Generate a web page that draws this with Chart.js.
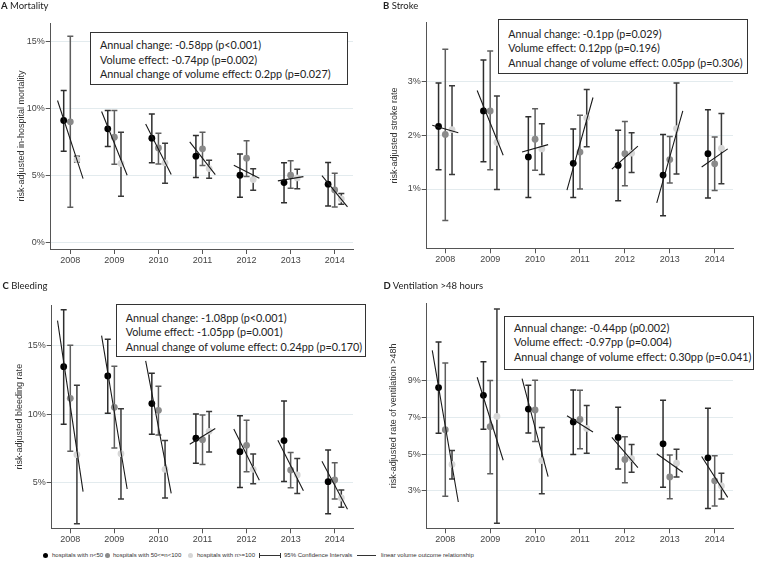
<!DOCTYPE html>
<html><head><meta charset="utf-8">
<script src="https://cdn.jsdelivr.net/npm/chart.js@4"></script>
<style>
html,body{margin:0;padding:0;background:#fff;}
#wrap{position:relative;width:767px;height:573px;overflow:hidden;}
canvas{position:absolute;}
.ptitle{position:absolute;font-family:Lato,sans-serif;font-size:9.5px;color:#222;line-height:1;white-space:nowrap;}
.box{position:absolute;border:1.3px solid #333;box-sizing:border-box;font-family:Lato,sans-serif;color:#222;background:#fff;}
.box div{position:absolute;white-space:nowrap;line-height:1;}
.leg{position:absolute;font-family:"Liberation Sans",Arial,sans-serif;font-size:6px;color:#333;white-space:nowrap;line-height:1;}
.dot{position:absolute;width:5px;height:5px;border-radius:50%;}
</style></head>
<body><div id="wrap">
<canvas id="cA" width="383" height="270" style="left:0;top:0"></canvas>
<canvas id="cB" width="384" height="270" style="left:383px;top:0"></canvas>
<canvas id="cC" width="383" height="280" style="left:0;top:270px"></canvas>
<canvas id="cD" width="384" height="280" style="left:383px;top:270px"></canvas>
</div>
<script>
// ---- data ----
const years = [2008, 2009, 2010, 2011, 2012, 2013, 2014];
const seriesLabels = ['hospitals with n<50', 'hospitals with 50<=n<100', 'hospitals with n>=100'];

// A Mortality
const mortN50    = [9.1, 8.48, 7.78, 6.43, 5.0, 4.45, 4.33];
const mortN50Lo  = [6.8, 7.15, 5.93, 4.83, 3.35, 2.95, 2.7];
const mortN50Hi  = [11.35, 9.85, 9.58, 7.98, 6.6, 5.93, 5.95];
const mortN100   = [9.0, 7.85, 7.05, 6.98, 6.28, 5.0, 3.9];
const mortN100Lo = [2.6, 5.83, 5.85, 5.73, 4.9, 4.03, 2.63];
const mortN100Hi = [15.4, 9.85, 8.15, 8.23, 7.58, 6.08, 5.15];
const mortNBig   = [6.18, 5.88, 5.93, 5.5, 4.68, 4.8, 3.23];
const mortNBigLo = [6.0, 3.43, 4.4, 4.78, 3.88, 4.0, 2.83];
const mortNBigHi = [6.43, 8.23, 7.4, 6.13, 5.48, 5.45, 3.63];
const mortFitStart = [10.6, 9.78, 8.83, 7.5, 5.75, 4.58, 4.98];
const mortFitEnd   = [4.75, 5.0, 5.05, 5.05, 4.78, 4.9, 2.63];
const mortTicks = [0, 5, 10, 15];
const mortText = ['Annual change: -0.58pp (p<0.001)', 'Volume effect: -0.74pp (p=0.002)', 'Annual change of volume effect: 0.2pp (p=0.027)'];

// B Stroke
const strokeN50    = [2.17, 2.46, 1.6, 1.48, 1.44, 1.26, 1.66];
const strokeN50Lo  = [1.36, 1.51, 0.84, 0.84, 0.78, 0.5, 0.83];
const strokeN50Hi  = [2.98, 3.41, 2.35, 2.12, 2.1, 2.02, 2.48];
const strokeN100   = [2.02, 2.46, 1.93, 1.69, 1.66, 1.55, 1.47];
const strokeN100Lo = [0.41, 1.36, 1.35, 1.0, 1.06, 1.11, 0.97];
const strokeN100Hi = [3.61, 3.58, 2.5, 2.38, 2.26, 1.98, 1.97];
const strokeNBig   = [2.11, 1.87, 1.75, 2.33, 1.67, 2.13, 1.76];
const strokeNBigLo = [1.27, 0.99, 1.27, 1.79, 1.31, 1.28, 1.1];
const strokeNBigHi = [2.93, 2.74, 2.22, 2.86, 2.05, 2.98, 2.41];
const strokeFitStart = [2.19, 2.84, 1.69, 0.98, 1.37, 0.74, 1.41];
const strokeFitEnd   = [2.05, 1.63, 1.83, 2.71, 1.8, 2.46, 1.75];
const strokeTicks = [1, 2, 3];
const strokeText = ['Annual change: -0.1pp (p=0.029)', 'Volume effect: 0.12pp (p=0.196)', 'Annual change of volume effect: 0.05pp (p=0.306)'];

// C Bleeding
const bleedN50    = [13.48, 12.8, 10.77, 8.23, 7.25, 8.06, 5.05];
const bleedN50Lo  = [9.25, 10.06, 8.52, 6.39, 4.63, 5.07, 2.7];
const bleedN50Hi  = [17.66, 15.49, 13.0, 10.01, 9.89, 10.97, 7.37];
const bleedN100   = [11.16, 10.5, 10.28, 8.13, 7.71, 5.9, 5.17];
const bleedN100Lo = [7.27, 7.52, 8.47, 6.3, 5.78, 4.61, 3.78];
const bleedN100Hi = [15.05, 13.51, 12.04, 9.94, 9.55, 7.18, 6.44];
const bleedNBig   = [7.03, 7.1, 5.95, 8.74, 5.95, 5.54, 3.85];
const bleedNBigLo = [1.97, 3.78, 3.85, 7.22, 4.9, 4.19, 3.17];
const bleedNBigHi = [12.11, 10.4, 8.06, 10.2, 7.08, 6.74, 4.44];
const bleedFitStart = [16.86, 15.76, 13.9, 7.79, 8.91, 8.08, 6.54];
const bleedFitEnd   = [4.32, 4.51, 4.19, 8.94, 5.15, 4.39, 3.02];
const bleedTicks = [5, 10, 15];
const bleedText = ['Annual change: -1.08pp (p<0.001)', 'Volume effect: -1.05pp (p=0.001)', 'Annual change of volume effect: 0.24pp (p=0.170)'];

// D Ventilation
const ventN50    = [8.62, 8.2, 7.45, 6.75, 5.91, 5.56, 4.8];
const ventN50Lo  = [6.13, 6.35, 6.15, 4.98, 4.2, 3.2, 2.05];
const ventN50Hi  = [11.09, 10.02, 8.75, 8.49, 7.55, 7.93, 7.49];
const ventN100   = [6.33, 6.49, 7.4, 6.89, 4.71, 3.76, 3.55];
const ventN100Lo = [2.71, 3.93, 5.69, 5.29, 3.44, 2.58, 2.18];
const ventN100Hi = [9.96, 9.0, 9.02, 8.47, 5.95, 4.95, 4.91];
const ventNBig   = [4.44, 7.05, 4.65, 6.4, 4.76, 4.51, 3.27];
const ventNBigLo = [3.65, 1.24, 2.85, 5.05, 4.02, 3.76, 2.56];
const ventNBigHi = [5.2, 12.89, 6.45, 7.65, 5.53, 5.27, 3.96];
const ventFitStart = [10.64, 9.18, 9.11, 7.09, 5.91, 5.02, 4.87];
const ventFitEnd   = [2.4, 4.67, 3.78, 6.2, 4.27, 4.02, 2.65];
const ventTicks = [3, 5, 7, 9];
const ventText = ['Annual change: -0.44pp (p0.002)', 'Volume effect: -0.97pp (p=0.004)', 'Annual change of volume effect: 0.30pp (p=0.041)'];

// ---- styling ----
const pointColors = ['#000000', '#8a8a8a', '#d6d6d6'];
const errColors = ['#2e2e2e', '#5e5e5e', '#3a3a3a'];
const groupOffset = [-0.15, 0, 0.15];
const fitHalf = 0.29;

const errorBars = {
  id: 'errorBars',
  beforeDatasetsDraw(chart) {
    const {ctx, scales: {x, y}} = chart;
    ctx.save();
    chart.data.datasets.forEach(ds => {
      if (!ds.errLo) return;
      ctx.strokeStyle = ds.errColor;
      ctx.lineWidth = 1.5;
      ds.data.forEach((p, j) => {
        const px = x.getPixelForValue(p.x);
        const y1 = y.getPixelForValue(ds.errLo[j]);
        const y2 = y.getPixelForValue(ds.errHi[j]);
        ctx.beginPath();
        ctx.moveTo(px, y1); ctx.lineTo(px, y2);
        ctx.moveTo(px - 3, y1); ctx.lineTo(px + 3, y1);
        ctx.moveTo(px - 3, y2); ctx.lineTo(px + 3, y2);
        ctx.stroke();
      });
    });
    ctx.restore();
  }
};

function makePanel(cfg) {
  const groups = [[cfg.v1, cfg.lo1, cfg.hi1], [cfg.v2, cfg.lo2, cfg.hi2], [cfg.v3, cfg.lo3, cfg.hi3]];
  const fitData = [];
  years.forEach((yr, i) => {
    fitData.push({x: yr - fitHalf, y: cfg.fs[i]});
    fitData.push({x: yr + fitHalf, y: cfg.fe[i]});
    fitData.push({x: yr + 0.5, y: null});
  });
  const datasets = [{
    label: 'linear volume outcome relationship',
    data: fitData, showLine: true, spanGaps: false, pointRadius: 0,
    borderColor: '#1a1a1a', borderWidth: 1.1
  }];
  groups.forEach((g, k) => {
    datasets.push({
      label: seriesLabels[k],
      data: years.map((yr, i) => ({x: yr + groupOffset[k], y: g[0][i]})),
      errLo: g[1], errHi: g[2], errColor: errColors[k],
      pointRadius: 3.4, pointHoverRadius: 3.4, pointBorderWidth: 0,
      backgroundColor: pointColors[k], borderColor: pointColors[k]
    });
  });
  new Chart(document.getElementById(cfg.id), {
    type: 'scatter',
    data: {datasets},
    plugins: [errorBars],
    options: {
      responsive: false, animation: false, events: [],
      layout: {padding: cfg.pad},
      plugins: {legend: {display: false}, tooltip: {enabled: false}},
      scales: {
        x: {
          type: 'linear', min: cfg.xMin, max: cfg.xMax,
          afterBuildTicks: s => { s.ticks = years.map(v => ({value: v})); },
          afterFit: s => { s.height = cfg.xH; },
          grid: {display: true, drawOnChartArea: false, tickLength: 5, tickColor: '#555', color: '#555'},
          border: {color: '#555', width: 1},
          ticks: {color: '#444', font: {family: 'Liberation Sans', size: 9}, padding: 1, maxRotation: 0,
                  callback: v => String(v)}
        },
        y: {
          type: 'linear', min: cfg.yMin, max: cfg.yMax,
          afterBuildTicks: s => { s.ticks = cfg.ticks.map(v => ({value: v})); },
          afterFit: s => { s.width = cfg.yW; },
          grid: {color: '#e3ebee', lineWidth: 1, tickLength: 5, tickColor: '#555'},
          border: {color: '#555', width: 1},
          ticks: {color: '#444', font: {family: 'Liberation Sans', size: 9}, padding: 1,
                  callback: v => v + '%'},
          title: {display: true, text: cfg.yTitle, color: '#333',
                  font: {family: 'Liberation Sans', size: 9}, padding: {top: cfg.tPad, bottom: 0}}
        }
      }
    }
  });
}

makePanel({id: 'cA', v1: mortN50, lo1: mortN50Lo, hi1: mortN50Hi, v2: mortN100, lo2: mortN100Lo, hi2: mortN100Hi,
  v3: mortNBig, lo3: mortNBigLo, hi3: mortNBigHi, fs: mortFitStart, fe: mortFitEnd, ticks: mortTicks,
  yMin: -0.52, yMax: 16.4, xMin: 2007.555, xMax: 2014.415,
  pad: {left: 0, top: 23, right: 30, bottom: 0}, yW: 50.7, xH: 21, tPad: 16.6,
  yTitle: 'risk-adjusted in-hospital mortality'});
makePanel({id: 'cB', v1: strokeN50, lo1: strokeN50Lo, hi1: strokeN50Hi, v2: strokeN100, lo2: strokeN100Lo, hi2: strokeN100Hi,
  v3: strokeNBig, lo3: strokeNBigLo, hi3: strokeNBigHi, fs: strokeFitStart, fe: strokeFitEnd, ticks: strokeTicks,
  yMin: -0.108, yMax: 4.108, xMin: 2007.586, xMax: 2014.408,
  pad: {left: 0, top: 22.7, right: 34, bottom: 0}, yW: 43.7, xH: 21.7, tPad: 6.6,
  yTitle: 'risk-adjusted stroke rate'});
makePanel({id: 'cC', v1: bleedN50, lo1: bleedN50Lo, hi1: bleedN50Hi, v2: bleedN100, lo2: bleedN100Lo, hi2: bleedN100Hi,
  v3: bleedNBig, lo3: bleedNBigLo, hi3: bleedNBigHi, fs: bleedFitStart, fe: bleedFitEnd, ticks: bleedTicks,
  yMin: 1.63, yMax: 18.0, xMin: 2007.578, xMax: 2014.415,
  pad: {left: 0, top: 35, right: 30, bottom: 0}, yW: 51.7, xH: 21.7, tPad: 14.6,
  yTitle: 'risk-adjusted bleeding rate'});
makePanel({id: 'cD', v1: ventN50, lo1: ventN50Lo, hi1: ventN50Hi, v2: ventN100, lo2: ventN100Lo, hi2: ventN100Hi,
  v3: ventNBig, lo3: ventNBigLo, hi3: ventNBigHi, fs: ventFitStart, fe: ventFitEnd, ticks: ventTicks,
  yMin: 0.97, yMax: 13.2, xMin: 2007.586, xMax: 2014.408,
  pad: {left: 0, top: 33.3, right: 34, bottom: 0}, yW: 43.7, xH: 21.7, tPad: 4.9,
  yTitle: 'risk-adjusted rate of ventilation >48h'});

// ---- annotations (HTML text) ----
const wrap = document.getElementById('wrap');
function addTitle(letter, text, left, top) {
  const d = document.createElement('div');
  d.className = 'ptitle';
  d.style.left = left + 'px'; d.style.top = top + 'px';
  d.innerHTML = '<b>' + letter + '</b> ' + text;
  wrap.appendChild(d);
}
addTitle('A', 'Mortality', 1, 0.5);
addTitle('B', 'Stroke', 383, 0.5);
addTitle('C', 'Bleeding', 2.5, 281);
addTitle('D', 'Ventilation >48 hours', 383.5, 280.5);

const meas = document.createElement('canvas').getContext('2d');
function addBox(lines, left, top, w, h, tx, ty, target) {
  const b = document.createElement('div');
  b.className = 'box';
  Object.assign(b.style, {left: left + 'px', top: top + 'px', width: w + 'px', height: h + 'px'});
  meas.font = '11px Lato';
  const fs = 11 * target / meas.measureText(lines[2]).width;
  lines.forEach((t, i) => {
    const l = document.createElement('div');
    l.textContent = t;
    l.style.fontSize = fs.toFixed(2) + 'px';
    l.style.left = tx + 'px';
    l.style.top = (ty + i * 14.4 - fs * 0.5) + 'px';
    b.appendChild(l);
  });
  wrap.appendChild(b);
}
addBox(mortText, 90, 32, 258, 53, 9, 12.7, 231);
addBox(strokeText, 497.7, 19, 250, 55, 9.6, 14.3, 235);
addBox(bleedText, 115.7, 304.3, 250.3, 53, 9, 13, 237);
addBox(ventText, 504, 315.7, 249.7, 54.3, 9, 11.6, 238);

// ---- legend ----
const legY = 555;
function legText(t, x) {
  const d = document.createElement('div');
  d.className = 'leg'; d.textContent = t;
  d.style.left = x + 'px'; d.style.top = (legY - 3.3) + 'px';
  wrap.appendChild(d);
}
function legDot(c, x) {
  const d = document.createElement('div');
  d.className = 'dot'; d.style.background = c;
  d.style.left = (x - 2.5) + 'px'; d.style.top = (legY - 2.5) + 'px';
  wrap.appendChild(d);
}
legDot(pointColors[0], 45); legText(seriesLabels[0], 52);
legDot(pointColors[1], 107); legText(seriesLabels[1], 113);
legDot(pointColors[2], 190); legText(seriesLabels[2], 197);
const ci = document.createElement('div');
Object.assign(ci.style, {position: 'absolute', left: '259px', top: (legY - 2.5) + 'px', width: '20px', height: '5px',
  borderLeft: '1px solid #333', borderRight: '1px solid #333'});
const ciL = document.createElement('div');
Object.assign(ciL.style, {position: 'absolute', left: '0', top: '2px', width: '20px', height: '1px', background: '#333'});
ci.appendChild(ciL); wrap.appendChild(ci);
legText('95% Confidence Intervals', 284);
const ln = document.createElement('div');
Object.assign(ln.style, {position: 'absolute', left: '357px', top: (legY - 0.5) + 'px', width: '19px', height: '1px', background: '#333'});
wrap.appendChild(ln);
legText('linear volume outcome relationship', 381);
</script>
</body></html>
